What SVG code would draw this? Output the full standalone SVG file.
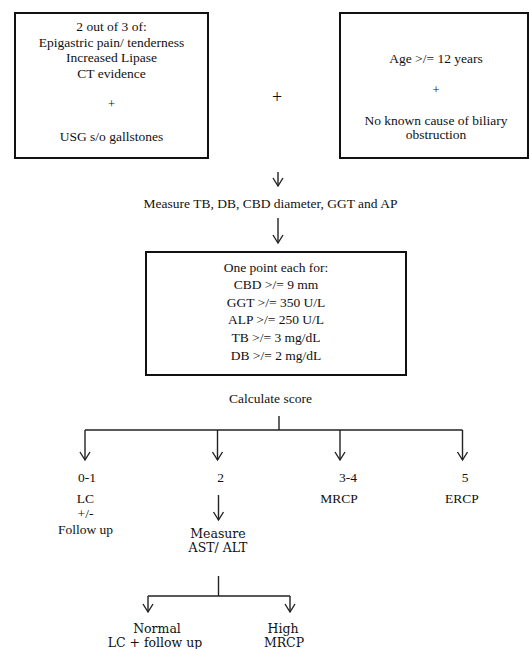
<svg xmlns="http://www.w3.org/2000/svg" width="530" height="649" viewBox="0 0 530 649">
<style>
.box{fill:#fff;stroke:#111;stroke-width:2}
.t{font-family:"Liberation Serif","Times New Roman",serif;font-size:13.5px;fill:#111;text-anchor:middle}
.c{font-family:"DejaVu Serif",serif;font-size:12.5px;fill:#111;text-anchor:middle}
.sp{font-size:12.5px}
.ln{stroke:#222;stroke-width:1.4;fill:none}
</style>
<defs>
<marker id="ah" markerUnits="userSpaceOnUse" viewBox="-6 -9 12 10" refX="0" refY="0" markerWidth="12" markerHeight="10" orient="auto-start-reverse" overflow="visible">
<path d="M-5,-8 L0,0 L5,-8" transform="rotate(-90)" fill="none" stroke="#222" stroke-width="1.4"/>
</marker>
</defs>
<rect width="530" height="649" fill="#fff"/>
<g id="criteria1">
<rect class="box" x="15" y="13" width="193" height="145"/>
<text class="t" x="111.5" y="31">2 out of 3 of:</text>
<text class="t" x="111.5" y="47">Epigastric pain/ tenderness</text>
<text class="t" x="111.5" y="62">Increased Lipase</text>
<text class="t" x="111.5" y="78">CT evidence</text>
<text class="t sp" x="111.5" y="108">+</text>
<text class="t" x="111.5" y="141">USG s/o gallstones</text>
</g>
<g id="plus">
<text class="t" x="277" y="103" style="font-size:18px">+</text>
</g>
<g id="criteria2">
<rect class="box" x="340" y="13" width="188" height="145"/>
<text class="t" x="436" y="63">Age &gt;/= 12 years</text>
<text class="t sp" x="436" y="94">+</text>
<text class="t" x="436" y="125">No known cause of biliary</text>
<text class="t" x="436" y="139">obstruction</text>
</g>
<g id="measure1">
<text class="t" x="270.5" y="208">Measure TB, DB, CBD diameter, GGT and AP</text>
</g>
<g id="points">
<rect class="box" x="146" y="252" width="260" height="123"/>
<text class="t" x="276" y="272">One point each for:</text>
<text class="t" x="276" y="289">CBD &gt;/= 9 mm</text>
<text class="t" x="276" y="307">GGT &gt;/= 350 U/L</text>
<text class="t" x="276" y="324">ALP &gt;/= 250 U/L</text>
<text class="t" x="276" y="342">TB &gt;/= 3 mg/dL</text>
<text class="t" x="276" y="360">DB &gt;/= 2 mg/dL</text>
</g>
<g id="calc">
<text class="t" x="270.5" y="403">Calculate score</text>
</g>
<g id="s01">
<text class="t" x="87" y="482">0-1</text>
<text class="t" x="85.5" y="503">LC</text>
<text class="t" x="85.5" y="518">+/-</text>
<text class="t" x="85.5" y="534">Follow up</text>
</g>
<g id="s2">
<text class="t" x="220.5" y="482">2</text>
</g>
<g id="s34">
<text class="t" x="348" y="482">3-4</text>
<text class="t" x="339" y="503">MRCP</text>
</g>
<g id="s5">
<text class="t" x="465" y="482">5</text>
<text class="t" x="462" y="503">ERCP</text>
</g>
<g id="astalt">
<text class="c" x="218" y="538">Measure</text>
<text class="c" x="218" y="552">AST/ ALT</text>
</g>
<g id="normal">
<text class="c" x="157" y="633">Normal</text>
<text class="c" x="155" y="647">LC + follow up</text>
</g>
<g id="high">
<text class="c" x="283" y="633">High</text>
<text class="c" x="284" y="647">MRCP</text>
</g>
<g id="connectors">
<line class="ln" x1="278" y1="172" x2="278" y2="186" marker-end="url(#ah)"/>
<line class="ln" x1="278" y1="218" x2="278" y2="243" marker-end="url(#ah)"/>
<line class="ln" x1="279" y1="416" x2="279" y2="430"/>
<line class="ln" x1="85" y1="430" x2="462.5" y2="430"/>
<line class="ln" x1="85" y1="430" x2="85" y2="460" marker-end="url(#ah)"/>
<line class="ln" x1="217.5" y1="430" x2="217.5" y2="460" marker-end="url(#ah)"/>
<line class="ln" x1="340" y1="430" x2="340" y2="460" marker-end="url(#ah)"/>
<line class="ln" x1="462.5" y1="430" x2="462.5" y2="460" marker-end="url(#ah)"/>
<line class="ln" x1="218.5" y1="495" x2="218.5" y2="520" marker-end="url(#ah)"/>
<line class="ln" x1="218.5" y1="576" x2="218.5" y2="596"/>
<line class="ln" x1="148" y1="596" x2="290" y2="596"/>
<line class="ln" x1="148" y1="596" x2="148" y2="612" marker-end="url(#ah)"/>
<line class="ln" x1="290" y1="596" x2="290" y2="612" marker-end="url(#ah)"/>
</g>
</svg>
